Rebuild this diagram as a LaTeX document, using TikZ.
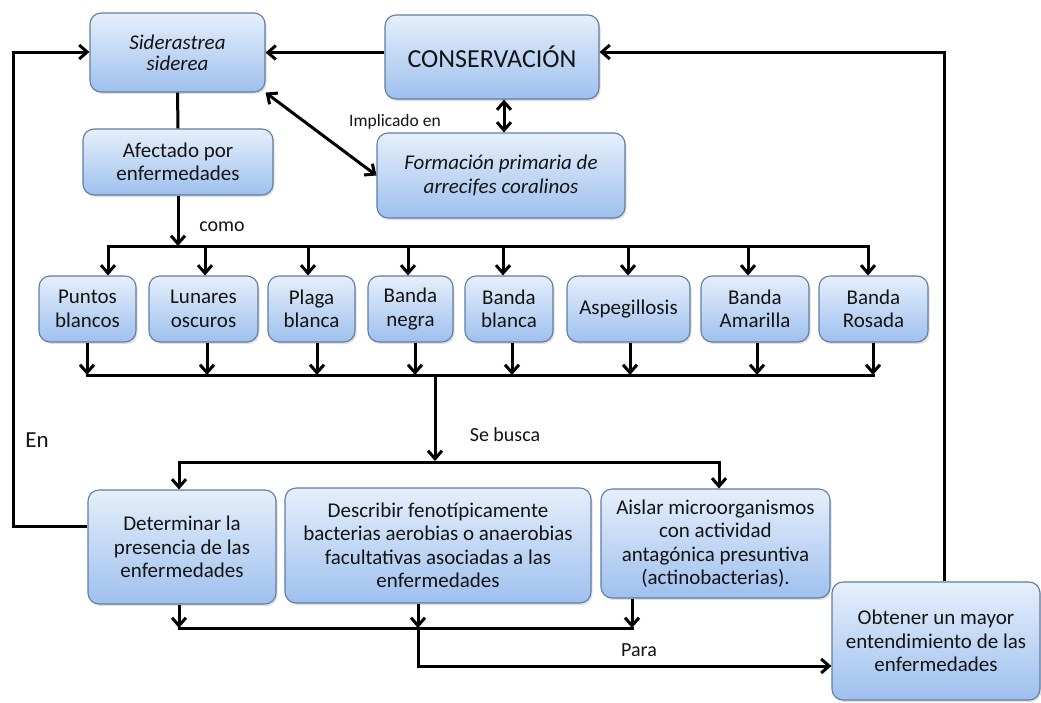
\documentclass[tikz,border=0pt]{standalone}
\usepackage{fontspec}
\setmainfont{Carlito}
\usetikzlibrary{arrows.meta,shadows}
\definecolor{boxline}{RGB}{95,125,165}
\definecolor{boxtop}{RGB}{230,239,251}
\definecolor{boxbot}{RGB}{158,192,238}
\definecolor{ink}{RGB}{20,20,20}
\begin{document}
\begin{tikzpicture}[x=1pt,y=-1pt,
  >={Straight Barb[length=8pt,width=14pt]},
  box/.style={draw=boxline, line width=1.1pt, rounded corners=11pt,
    top color=boxtop, bottom color=boxbot,
    drop shadow={shadow xshift=1.5pt,shadow yshift=-2pt,opacity=0.25},
    align=center, inner sep=2pt, text=ink,
    font=\fontsize{21}{23.5}\selectfont},
  itbox/.style={box, font=\fontsize{21}{21}\selectfont\itshape},
  conn/.style={line width=3pt, draw=black},
  lbl/.style={text=ink, inner sep=1pt, font=\fontsize{20}{22}\selectfont}]
\useasboundingbox (0,0) rectangle (1041,702);

% top nodes
\node[itbox, minimum width=175pt, minimum height=79pt] (sid) at (177.5,52.5) {Siderastrea\\siderea};
\node[box, minimum width=214pt, minimum height=84pt, font=\fontsize{26}{28}\selectfont] (cons) at (492,57) {CONSERVACIÓN};
\node[box, minimum width=190pt, minimum height=66pt] (afec) at (178,162) {Afectado por\\enfermedades};
\node[itbox, minimum width=248pt, minimum height=85pt, font=\fontsize{21}{24}\selectfont\itshape] (form) at (501,175.5) {Formación primaria de\\arrecifes coralinos};

% disease nodes
\node[box, minimum width=97pt, minimum height=66pt] (p1) at (87.5,309) {Puntos\\blancos};
\node[box, minimum width=109pt, minimum height=66pt] (p2) at (203.5,309) {Lunares\\oscuros};
\node[box, minimum width=87pt, minimum height=66pt] (p3) at (311.5,309) {Plaga\\blanca};
\node[box, minimum width=85pt, minimum height=66pt] (p4) at (410.5,309) {Banda\\negra};
\node[box, minimum width=88pt, minimum height=66pt] (p5) at (509,309) {Banda\\blanca};
\node[box, minimum width=123pt, minimum height=66pt] (p6) at (628.5,309) {Aspegillosis};
\node[box, minimum width=108pt, minimum height=66pt] (p7) at (755,309) {Banda\\Amarilla};
\node[box, minimum width=109pt, minimum height=66pt] (p8) at (873.5,309) {Banda\\Rosada};

% bottom nodes
\node[box, minimum width=188pt, minimum height=114pt] (det) at (182,547) {Determinar la\\presencia de las\\enfermedades};
\node[box, minimum width=306pt, minimum height=115pt] (des) at (438,545.5) {Describir fenotípicamente\\bacterias aerobias o anaerobias\\facultativas asociadas a las\\enfermedades};
\node[box, minimum width=229pt, minimum height=109pt] (ais) at (715.5,543.5) {Aislar microorganismos\\con actividad\\antagónica presuntiva\\(actinobacterias).};
\node[box, minimum width=208pt, minimum height=118pt] (obt) at (936,641) {Obtener un mayor\\entendimiento de las\\enfermedades};

% labels
\node[lbl, font=\fontsize{17.5}{20}\selectfont] (limp) at (395,122) {Implicado en};
\node[lbl] (lcomo) at (222,227) {como};
\node[lbl] (lbusca) at (505,435) {Se busca};
\node[lbl, font=\fontsize{23}{25}\selectfont] (len) at (37,440) {En};
\node[lbl] (lpara) at (639,650) {Para};

% coordinates
\coordinate (tr) at (944,52);
\coordinate (tl) at (13,52);
\coordinate (bl) at (13,526);
\coordinate (b1l) at (106.5,246);
\coordinate (b1r) at (869.5,246);
\coordinate (b2l) at (85.5,375);
\coordinate (b2r) at (874.5,375);
\coordinate (b2m) at (435,375);
\coordinate (b3l) at (177.5,462);
\coordinate (b3r) at (720.5,462);
\coordinate (b3m) at (435,462);
\coordinate (b4l) at (177.5,628);
\coordinate (b4r) at (633.5,628);
\coordinate (b4m) at (418,628);
\coordinate (b4d) at (418,666);

% connectors top
\draw[conn,->] (obt.north -| tr) -- (tr) -- (tr -| cons.east);
\draw[conn,->] (cons.west |- sid.east) -- (sid.east);
\draw[conn] (sid.south) -- (afec.north);
\draw[conn,<->] (sid.south east) -- (form.west);
\draw[conn,<->] ([xshift=12pt]cons.south) -- ([xshift=12pt]cons.south |- form.north);
\draw[conn,->] (afec.south) -- (afec.south |- b1l);

% bus 1
\draw[conn] (b1l) -- (b1r);
\foreach \x/\n in {108/p1,205/p2,308/p3,408/p4,503/p5,628/p6,748/p7,868/p8}
  \draw[conn,->] ({\x},246) -- ({\x},0 |- \n.north);

% bus 2
\foreach \x/\n in {87/p1,207/p2,317/p3,415/p4,512/p5,630/p6,757/p7,873/p8}
  \draw[conn,->] ({\x},0 |- \n.south) -- ({\x},375);
\draw[conn] (b2l) -- (b2r);
\draw[conn,->] (b2m) -- ([yshift=1pt]b3m);

% bus 3
\draw[conn] (b3l) -- (b3r);
\draw[conn,->] (179,462) -- (179,0 |- det.north);
\draw[conn,->] (719,462) -- (719,0 |- ais.north);

% left loop
\draw[conn,->] (det.west |- bl) -- (bl) -- (tl) -- (sid.west |- tl);

% bus 4
\draw[conn,->] (179,0 |- det.south) -- (179,628);
\draw[conn,->] (418,0 |- des.south) -- (b4m);
\draw[conn,->] (632,0 |- ais.south) -- (632,628);
\draw[conn] (b4l) -- (b4r);
\draw[conn,->] (b4m) -- (b4d) -- (obt.west |- b4d);
\end{tikzpicture}
\end{document}
